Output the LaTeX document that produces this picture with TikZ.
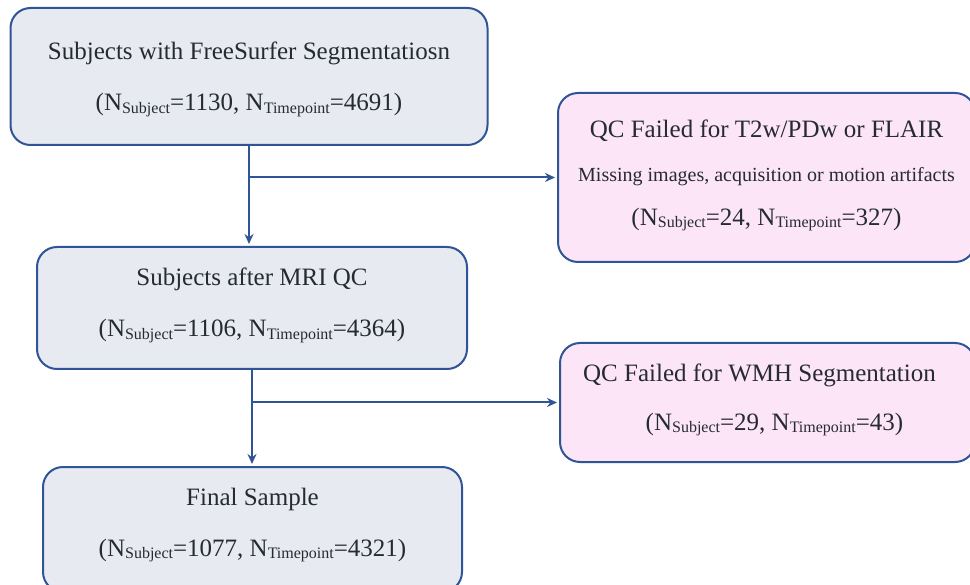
\documentclass[tikz,border=0pt]{standalone}
\usepackage{fontspec}
\setmainfont{Liberation Serif}
\usetikzlibrary{positioning,arrows.meta}
\definecolor{boxline}{HTML}{2F5597}
\definecolor{grayfill}{HTML}{E7EAF0}
\definecolor{pinkfill}{HTML}{FCE5F7}
\definecolor{txt}{HTML}{262A33}
\newcommand{\subtxt}[1]{\raisebox{-0.2ex}{\fontsize{16}{16}\selectfont #1}}
\newcommand{\counts}[2]{(N\subtxt{Subject}=#1, N\subtxt{Timepoint}=#2)}
\tikzset{
  stagebox/.style={draw=boxline, line width=2pt, fill=grayfill, rounded corners=20pt,
    inner sep=0pt, align=center, text=txt, font=\fontsize{25}{51}\selectfont},
  failbox/.style={stagebox, fill=pinkfill},
  flow/.style={draw=boxline, line width=2pt, shorten >=2pt, -{Stealth[length=10pt,width=9pt]}}
}
\begin{document}
\begin{tikzpicture}[x=1pt,y=-1pt]
  \useasboundingbox (0,0) rectangle (970,585);
  \clip (0,0) rectangle (970,585);
  % main stages
  \node[stagebox, minimum width=477pt, minimum height=137pt, text depth=0pt] (seg) at (249,76.5)
    {Subjects with FreeSurfer Segmentatiosn\\\counts{1130}{4691}};
  \node[stagebox, minimum width=430pt, minimum height=122pt, text depth=11pt] (mri) at (252,308)
    {Subjects after MRI QC\\\counts{1106}{4364}};
  \node[stagebox, minimum width=419pt, minimum height=125pt, text depth=14pt] (final) at (252.5,529.5)
    {Final Sample\\\counts{1077}{4321}};
  % exclusions
  \node[failbox, minimum width=417pt, minimum height=169pt, font=\fontsize{25}{44}\selectfont, text depth=10pt] (qcimg) at (766.5,177.5)
    {QC Failed for T2w/PDw or FLAIR\\{\fontsize{20}{44}\selectfont Missing images, acquisition or motion artifacts}\\\counts{24}{327}};
  \node[failbox, minimum width=415pt, minimum height=119pt, font=\fontsize{25}{49}\selectfont, text depth=11pt] (qcwmh) at (767.5,402.5)
    {QC Failed for WMH Segmentation\hspace*{16pt}\\\hspace*{14pt}\counts{29}{43}};
  % connectors
  \draw[flow] (seg.south) -- (seg.south |- mri.north);
  \draw[flow] (seg.south |- qcimg.west) -- (qcimg.west);
  \draw[flow] (mri.south) -- (mri.south |- final.north);
  \draw[flow] (mri.south |- qcwmh.west) -- (qcwmh.west);
\end{tikzpicture}
\end{document}
